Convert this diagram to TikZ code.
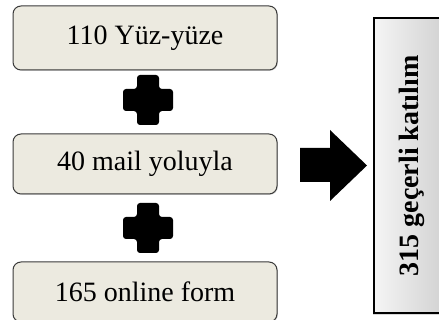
\documentclass[tikz,border=0pt]{standalone}
\usepackage{fontspec}
\setmainfont{Liberation Serif}
\usetikzlibrary{shadows}
\definecolor{boxfill}{HTML}{ECEAE0}
\definecolor{boxline}{HTML}{3A3A3A}
\tikzset{
  x=1pt, y=1pt,
  source/.style={draw=boxline, line width=1pt, fill=boxfill, rounded corners=8pt,
    minimum width=264pt, inner sep=0pt,
    font=\fontsize{28}{32}\selectfont,
    drop shadow={shadow xshift=0.8pt, shadow yshift=-0.8pt, opacity=0.35}},
  total/.style={draw=black, line width=1.2pt, left color=gray!8, right color=gray!38,
    minimum width=76pt, minimum height=295pt, inner sep=0pt,
    drop shadow={shadow xshift=-1.5pt, shadow yshift=-2.5pt, opacity=0.3}},
  plusmark/.style={fill=black, rounded corners=3pt},
  bigarrow/.style={fill=black}
}
\begin{document}
\begin{tikzpicture}
\clip (0,0) rectangle (439,320);
\fill[white] (0,0) rectangle (439,320);

% three source boxes
\node[source, minimum height=64pt] (f2f)   at (145,282) {110 Yüz-yüze};
\node[source, minimum height=60pt] (mail)  at (145,156) {40 mail yoluyla};
\node[source, minimum height=60pt] (form)  at (145,28)  {165 online form};

% plus signs between the boxes
\foreach \cy in {220,92}{
  \fill[plusmark] (137,\cy+25) -- (159,\cy+25) -- (159,\cy+11) -- (173,\cy+11)
    -- (173,\cy-11) -- (159,\cy-11) -- (159,\cy-25) -- (137,\cy-25)
    -- (137,\cy-11) -- (123,\cy-11) -- (123,\cy+11) -- (137,\cy+11) -- cycle;
}

% block arrow to the total
\fill[bigarrow] (300,138) -- (330,138) -- (330,119) -- (367,154.5)
  -- (330,190) -- (330,172) -- (300,172) -- cycle;

% total box
\node[total] (sum) at (412,154.5) {};
\node[rotate=90, font=\fontsize{28}{32}\selectfont\bfseries] (sumtext) at (412,154)
  {315 geçerli katılım};
\end{tikzpicture}
\end{document}
